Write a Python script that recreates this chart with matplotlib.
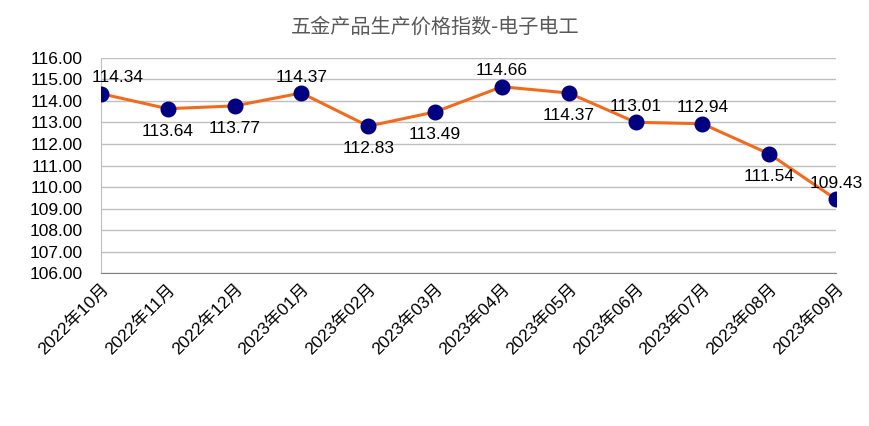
import matplotlib.pyplot as plt

plt.rcParams['font.family'] = ['Liberation Sans', 'Noto Sans CJK SC', 'DejaVu Sans']

months = ['2022年10月', '2022年11月', '2022年12月', '2023年01月', '2023年02月', '2023年03月',
          '2023年04月', '2023年05月', '2023年06月', '2023年07月', '2023年08月', '2023年09月']
values = [114.34, 113.64, 113.77, 114.37, 112.83, 113.49,
          114.66, 114.37, 113.01, 112.94, 111.54, 109.43]
# label placement: 1 above point, -1 below
label_side = [1, -1, -1, 1, -1, -1, 1, -1, 1, 1, -1, 1]
yticks = [106, 107, 108, 109, 110, 111, 112, 113, 114, 115, 116]


def main():
    fig = plt.figure(figsize=(8.7, 4.26), dpi=100)
    ax = fig.add_axes([0.116, 0.359, 0.845, 0.505])

    x = list(range(len(months)))
    ax.plot(x, values, color='#F26B1D', linewidth=2.2, zorder=2)
    ax.plot(x, values, linestyle='none', marker='o', markersize=10.5,
            color='#000080', zorder=3)

    for xi, v, s in zip(x, values, label_side):
        dy = 6 if s > 0 else -11
        dx = 12 if xi == 0 else 0   # first label pushed inside the plot area
        ax.annotate(f'{v:.2f}', (xi, v), xytext=(dx, dy), textcoords='offset points',
                    ha='center', va='bottom' if s > 0 else 'top', fontsize=12.5,
                    zorder=4)

    ax.set_xlim(0, len(months) - 1)
    ax.set_ylim(106, 116)
    ax.set_yticks(yticks)
    ax.set_yticklabels([f'{t:.2f}' for t in yticks], fontsize=12.5)
    ax.set_xticks(x)
    ax.set_xticklabels(months, rotation=45, ha='right', va='top',
                       rotation_mode='anchor', fontsize=12.5)
    ax.tick_params(axis='y', length=0, pad=13)
    ax.tick_params(axis='x', length=0, pad=6)

    ax.grid(axis='y', color='#BFBFBF', linewidth=1)
    ax.set_axisbelow(True)
    ax.spines['top'].set_visible(False)
    ax.spines['right'].set_visible(False)
    ax.spines['left'].set_color('#BFBFBF')
    ax.spines['bottom'].set_color('#808080')

    fig.text(0.5, 0.935, '五金产品生产价格指数-电子电工', ha='center', va='center',
             fontsize=14.5, color='#595959', family=['Noto Sans CJK SC', 'DejaVu Sans'])

    fig.savefig('out.png', dpi=100)


if __name__ == '__main__':
    main()
